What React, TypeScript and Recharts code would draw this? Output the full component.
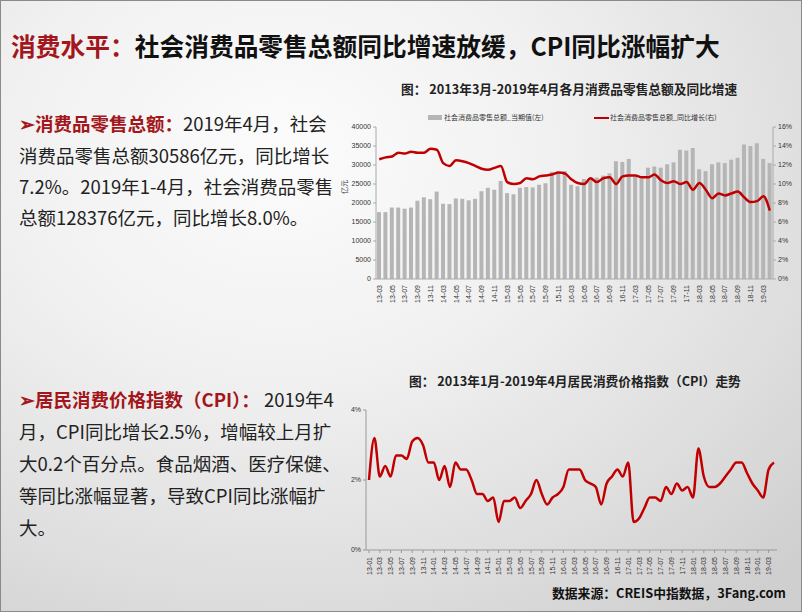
import React from 'react';
import { ComposedChart, Bar, Line, LineChart, XAxis, YAxis } from 'recharts';

const retailMonths = [
  '13-03','13-04','13-05','13-06','13-07','13-08','13-09','13-10','13-11','13-12',
  '14-03','14-04','14-05','14-06','14-07','14-08','14-09','14-10','14-11','14-12',
  '15-03','15-04','15-05','15-06','15-07','15-08','15-09','15-10','15-11','15-12',
  '16-03','16-04','16-05','16-06','16-07','16-08','16-09','16-10','16-11','16-12',
  '17-03','17-04','17-05','17-06','17-07','17-08','17-09','17-10','17-11','17-12',
  '18-03','18-04','18-05','18-06','18-07','18-08','18-09','18-10','18-11','18-12',
  '19-03','19-04',
];

const retailValues = [
  17600, 17600, 18800, 18800, 18500, 18800, 20600, 21500, 21000, 23000,
  19800, 19700, 21200, 21100, 20700, 21100, 23100, 24000, 23500, 25800,
  22600, 22300, 24000, 24200, 24100, 24800, 25200, 28200, 28000, 28400,
  24800, 24400, 26300, 26500, 26700, 27200, 27800, 31000, 30800, 31600,
  27000, 26500, 29300, 29600, 29300, 30200, 30700, 34000, 33800, 34500,
  28900, 28400, 30200, 30700, 30500, 31400, 31900, 35400, 35000, 35700,
  31600, 30500,
];

const retailGrowth = [
  12.6, 12.8, 12.9, 13.3, 13.2, 13.4, 13.3, 13.3, 13.7, 13.6,
  12.2, 11.9, 12.5, 12.4, 12.2, 11.9, 11.6, 11.5, 11.7, 11.9,
  10.2, 10.0, 10.1, 10.6, 10.5, 10.8, 10.9, 11.0, 11.2, 11.1,
  10.5, 10.1, 10.0, 10.6, 10.2, 10.6, 10.7, 10.0, 10.8, 10.9,
  10.9, 10.7, 10.7, 11.0, 10.4, 10.1, 10.3, 10.0, 10.2, 9.4,
  10.1, 9.4, 8.5, 9.0, 8.8, 9.0, 9.2, 8.6, 8.1, 8.2,
  8.7, 7.2,
];

const cpiMonths = [
  '13-01','13-02','13-03','13-04','13-05','13-06','13-07','13-08','13-09','13-10','13-11','13-12',
  '14-01','14-02','14-03','14-04','14-05','14-06','14-07','14-08','14-09','14-10','14-11','14-12',
  '15-01','15-02','15-03','15-04','15-05','15-06','15-07','15-08','15-09','15-10','15-11','15-12',
  '16-01','16-02','16-03','16-04','16-05','16-06','16-07','16-08','16-09','16-10','16-11','16-12',
  '17-01','17-02','17-03','17-04','17-05','17-06','17-07','17-08','17-09','17-10','17-11','17-12',
  '18-01','18-02','18-03','18-04','18-05','18-06','18-07','18-08','18-09','18-10','18-11','18-12',
  '19-01','19-02','19-03','19-04',
];

const cpiValues = [
  2.0, 3.2, 2.1, 2.4, 2.1, 2.7, 2.7, 2.6, 3.1, 3.2, 3.0, 2.5,
  2.5, 2.0, 2.4, 1.8, 2.5, 2.3, 2.3, 2.0, 1.6, 1.6, 1.4, 1.5,
  0.8, 1.4, 1.4, 1.5, 1.2, 1.4, 1.6, 2.0, 1.6, 1.3, 1.5, 1.6,
  1.8, 2.3, 2.3, 2.3, 2.0, 1.9, 1.8, 1.3, 1.9, 2.1, 2.3, 2.1,
  2.5, 0.8, 0.9, 1.2, 1.5, 1.5, 1.4, 1.8, 1.6, 1.9, 1.7, 1.8,
  1.5, 2.9, 2.1, 1.8, 1.8, 1.9, 2.1, 2.3, 2.5, 2.5, 2.2, 1.9,
  1.7, 1.5, 2.3, 2.5,
];

const retailTicks = [0, 5000, 10000, 15000, 20000, 25000, 30000, 35000, 40000];
const growthTicks = [0, 2, 4, 6, 8, 10, 12, 14, 16];
const cpiTicks = [0, 2, 4];

const retailData = retailMonths.map((m, i) => ({ m, v: retailValues[i], g: retailGrowth[i] }));
const cpiData = cpiMonths.map((m, i) => ({ m, c: cpiValues[i] }));

const TICK_FONT = '"Liberation Sans", Arial, sans-serif';
const CJK = '"Noto Sans CJK SC", "Noto Sans", sans-serif';
const RED = '#c00000';
const TITLE_RED = '#a3161b';

const RotTick = (props: any) => {
  const { x, y, payload } = props;
  return (
    <text
      x={x}
      y={y}
      transform={`rotate(-90, ${x}, ${y})`}
      textAnchor="end"
      dx={-2}
      dy={2.5}
      fontSize={7}
      fontFamily={TICK_FONT}
      fill="#333"
    >
      {payload.value}
    </text>
  );
};

const tickStyle = { fontSize: 7, fill: '#333', fontFamily: TICK_FONT };

const abs = (left: number, top: number, extra: React.CSSProperties = {}): React.CSSProperties => ({
  position: 'absolute',
  left,
  top,
  whiteSpace: 'nowrap',
  ...extra,
});

const para: React.CSSProperties = { fontFamily: CJK, fontSize: 18.5, color: '#222', lineHeight: '24px' };
const redBold: React.CSSProperties = { color: TITLE_RED, fontWeight: 700 };

export default function App() {
  return (
    <div
      style={{
        position: 'absolute',
        left: 0,
        top: 0,
        width: 802,
        height: 612,
        overflow: 'hidden',
        boxSizing: 'border-box',
        border: '1px solid #8a8a8a',
        background: 'radial-gradient(ellipse 90% 95% at 35% 25%, #fcfcfc 0%, #f0f0f0 40%, #dedede 75%, #cfcfcf 100%)',
      }}
    >
      {/* Slide title */}
      <div
        style={abs(10, 27, {
          fontFamily: CJK,
          fontSize: 25.5,
          fontWeight: 700,
          color: '#111',
          lineHeight: '34px',
          transform: 'scaleX(0.97)',
          transformOrigin: 'left center',
        })}
      >
        <span style={{ color: TITLE_RED }}>消费水平：</span>社会消费品零售总额同比增速放缓，CPI同比涨幅扩大
      </div>

      {/* Paragraph 1 */}
      <div style={abs(18, 110, para)}><span style={redBold}>➢消费品零售总额：</span>2019年4月，社会</div>
      <div style={abs(18, 142, para)}>消费品零售总额30586亿元，同比增长</div>
      <div style={abs(18, 173, para)}>7.2%。2019年1-4月，社会消费品零售</div>
      <div style={abs(18, 204, para)}>总额128376亿元，同比增长8.0%。</div>

      {/* Paragraph 2 */}
      <div style={abs(18, 386, para)}><span style={redBold}>➢居民消费价格指数（CPI）：</span> 2019年4</div>
      <div style={abs(18, 418, para)}>月，CPI同比增长2.5%，增幅较上月扩</div>
      <div style={abs(18, 450, para)}>大0.2个百分点。食品烟酒、医疗保健、</div>
      <div style={abs(18, 482, para)}>等同比涨幅显著，导致CPI同比涨幅扩</div>
      <div style={abs(18, 514, para)}>大。</div>

      {/* Top chart title */}
      <div style={abs(400, 79, { fontFamily: CJK, fontSize: 12.7, fontWeight: 700, color: '#222', lineHeight: '18px' })}>
        图： 2013年3月-2019年4月各月消费品零售总额及同比增速
      </div>

      {/* Top legend */}
      <div style={abs(427, 114, { width: 14, height: 5, background: '#b5b5b5' })} />
      <div style={abs(443, 110, { fontFamily: CJK, fontSize: 7, color: '#333', lineHeight: '12px' })}>社会消费品零售总额_当期值(左)</div>
      <div style={abs(593, 115.5, { width: 15, height: 2, background: RED })} />
      <div style={abs(609, 110, { fontFamily: CJK, fontSize: 7, color: '#333', lineHeight: '12px' })}>社会消费品零售总额_同比增长(右)</div>

      {/* 亿元 label */}
      <div style={abs(336, 181, { fontFamily: CJK, fontSize: 7, color: '#333', transform: 'rotate(-90deg)', lineHeight: '10px' })}>亿元</div>

      {/* Top chart */}
      <div style={abs(330, 120)}>
        <ComposedChart width={472} height={188} data={retailData} margin={{ top: 6, right: 0, bottom: 0, left: 0 }}>
          <XAxis dataKey="m" interval={1} tick={<RotTick />} height={30} stroke="#aaa" tickLine={false} tickSize={2} />
          <YAxis
            yAxisId="l"
            domain={[0, 40000]}
            ticks={retailTicks}
            width={45}
            tick={tickStyle}
            stroke="#aaa"
            tickSize={3}
            interval={0}
          />
          <YAxis
            yAxisId="r"
            orientation="right"
            domain={[0, 16]}
            ticks={growthTicks}
            tickFormatter={(v: number) => `${v}%`}
            width={30}
            tick={tickStyle}
            stroke="#aaa"
            tickSize={3}
            interval={0}
          />
          <Bar yAxisId="l" dataKey="v" fill="#b5b5b5" barSize={4} isAnimationActive={false} />
          <Line
            yAxisId="r"
            dataKey="g"
            type="monotone"
            stroke={RED}
            strokeWidth={2.5}
            dot={false}
            isAnimationActive={false}
          />
        </ComposedChart>
      </div>

      {/* Bottom chart title */}
      <div style={abs(408, 371, { fontFamily: CJK, fontSize: 12.7, fontWeight: 700, color: '#222', lineHeight: '18px' })}>
        图： 2013年1月-2019年4月居民消费价格指数（CPI）走势
      </div>

      {/* Bottom chart */}
      <div style={abs(320, 400)}>
        <LineChart width={482} height={180} data={cpiData} margin={{ top: 9, right: 26, bottom: 0, left: 0 }}>
          <XAxis
            dataKey="m"
            interval={1}
            tick={<RotTick />}
            height={31}
            stroke="#999"
            tickSize={3}
            padding={{ left: 3, right: 3 }}
          />
          <YAxis
            domain={[0, 4]}
            ticks={cpiTicks}
            tickFormatter={(v: number) => `${v}%`}
            width={45}
            tick={tickStyle}
            stroke="#999"
            tickSize={3}
            interval={0}
          />
          <Line
            dataKey="c"
            type="monotone"
            stroke={RED}
            strokeWidth={2.5}
            dot={false}
            isAnimationActive={false}
          />
        </LineChart>
      </div>

      {/* Footer */}
      <div style={abs(551, 583, { fontFamily: CJK, fontSize: 12.8, fontWeight: 700, color: '#111', lineHeight: '18px' })}>
        数据来源：CREIS中指数据，3Fang.com
      </div>
    </div>
  );
}
